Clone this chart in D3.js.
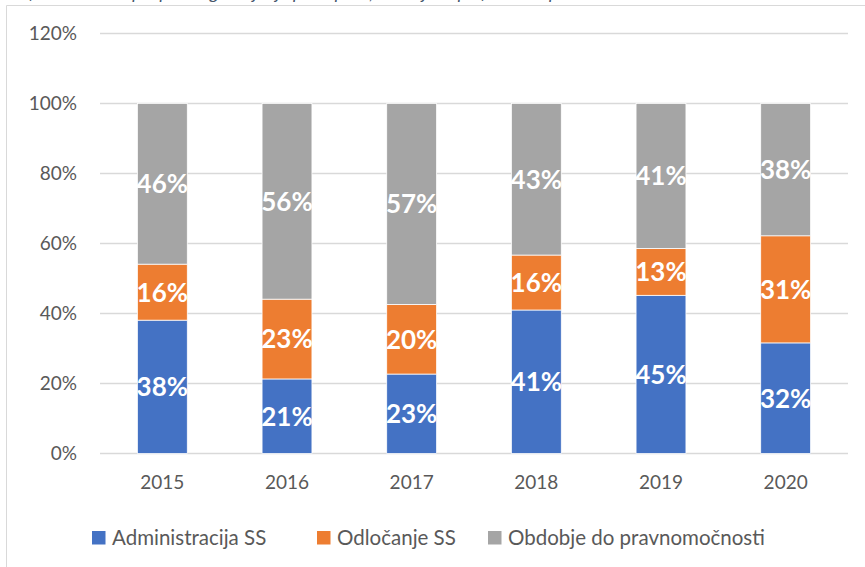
<!DOCTYPE html>
<html>
<head>
<meta charset="utf-8">
<script src="https://cdn.jsdelivr.net/npm/d3@7"></script>
<style>
  body { margin: 0; background: #fff; }
  svg { display: block; font-family: Lato, "Open Sans", sans-serif; }
</style>
</head>
<body>
<svg id="chart" width="865" height="567"></svg>
<script>
// data (shares of 1)
const years = ["2015", "2016", "2017", "2018", "2019", "2020"];
const administracija = [0.381, 0.213, 0.227, 0.410, 0.452, 0.316];
const odlocanje = [0.160, 0.228, 0.199, 0.157, 0.134, 0.306];
const obdobje = [0.459, 0.559, 0.574, 0.433, 0.414, 0.378];
const yTicks = [0, 0.2, 0.4, 0.6, 0.8, 1.0, 1.2];

const series = [
    { key: "adm", name: "Administracija SS", color: "#4472C4", values: administracija },
    { key: "odl", name: "Odločanje SS", color: "#ED7D31", values: odlocanje },
    { key: "obd", name: "Obdobje do pravnomočnosti", color: "#A5A5A5", values: obdobje }
];

const svg = d3.select("#chart"),
    margin = { top: 33.5, right: 17, bottom: 113.5, left: 100 },
    width = +svg.attr("width") - margin.left - margin.right,
    height = +svg.attr("height") - margin.top - margin.bottom;

// caption of the figure, cut off by the top edge (as in the source)
svg.append("text")
    .attr("x", 2)
    .attr("y", -1.5)
    .attr("fill", "#44546A")
    .style("font-style", "italic")
    .style("font-size", "18px")
    .text("Graf 4: Struktura povprečnega trajanja postopkov, razdeljeno po fazah do pravnomočnosti");

// chart frame
svg.append("path")
    .attr("d", "M6.5,567 V5.5 H865")
    .attr("fill", "none")
    .attr("stroke", "#d9d9d9")
    .attr("stroke-width", 1);

const g = svg.append("g")
    .attr("transform", `translate(${margin.left},${margin.top})`);

const x = d3.scaleBand().domain(years).range([0, width]).paddingInner(0.6).paddingOuter(0.3);
const y = d3.scaleLinear().domain([0, 1.2]).range([height, 0]);

// gridlines
g.append("g")
    .selectAll("line")
    .data(yTicks)
    .join("line")
    .attr("x1", 0)
    .attr("x2", width)
    .attr("y1", d => y(d))
    .attr("y2", d => y(d))
    .attr("stroke", "#d9d9d9")
    .attr("stroke-width", 1.5);

// Y axis labels
const yAxis = g.append("g")
    .call(d3.axisLeft(y).tickValues(yTicks).tickFormat(d3.format(".0%")).tickSize(0).tickPadding(23));
yAxis.select(".domain").remove();
yAxis.selectAll("text")
    .attr("fill", "#595959")
    .style("font-family", "Lato, sans-serif")
    .style("font-size", "19px");

// X axis labels
const xAxis = g.append("g")
    .attr("transform", `translate(0,${height})`)
    .call(d3.axisBottom(x).tickSize(0).tickPadding(22));
xAxis.select(".domain").remove();
xAxis.selectAll("text")
    .attr("fill", "#595959")
    .style("font-family", "Lato, sans-serif")
    .style("font-size", "19px");

// stack the data
const rows = years.map((yr, i) => {
    const r = { year: yr };
    series.forEach(s => { r[s.key] = s.values[i]; });
    return r;
});
const stacked = d3.stack().keys(series.map(s => s.key))(rows);

const layers = g.selectAll("g.layer")
    .data(stacked)
    .join("g")
    .attr("class", "layer")
    .attr("fill", (d, i) => series[i].color);

layers.selectAll("rect")
    .data(d => d)
    .join("rect")
    .attr("x", d => x(d.data.year))
    .attr("width", x.bandwidth())
    .attr("y", d => y(d[1]))
    .attr("height", d => y(d[0]) - y(d[1]))
    .attr("stroke", "#ffffff")
    .attr("stroke-width", 0.75);

// data labels
layers.selectAll("text")
    .data(d => d)
    .join("text")
    .attr("x", d => x(d.data.year) + x.bandwidth() / 2)
    .attr("y", d => y((d[0] + d[1]) / 2))
    .attr("dy", "0.36em")
    .attr("text-anchor", "middle")
    .attr("fill", "#ffffff")
    .style("font-weight", "bold")
    .style("font-size", "26px")
    .text(d => d3.format(".0%")(d[1] - d[0]));

// legend
const legendItems = [
    { s: series[0], x: 92 },
    { s: series[1], x: 317 },
    { s: series[2], x: 488 }
];
const legend = svg.append("g");
legendItems.forEach(item => {
    legend.append("rect")
        .attr("x", item.x)
        .attr("y", 531)
        .attr("width", 13.5)
        .attr("height", 13.5)
        .attr("fill", item.s.color);
    legend.append("text")
        .attr("x", item.x + 20)
        .attr("y", 545)
        .attr("fill", "#595959")
        .style("font-size", "20.5px")
        .text(item.s.name);
});
</script>
</body>
</html>
